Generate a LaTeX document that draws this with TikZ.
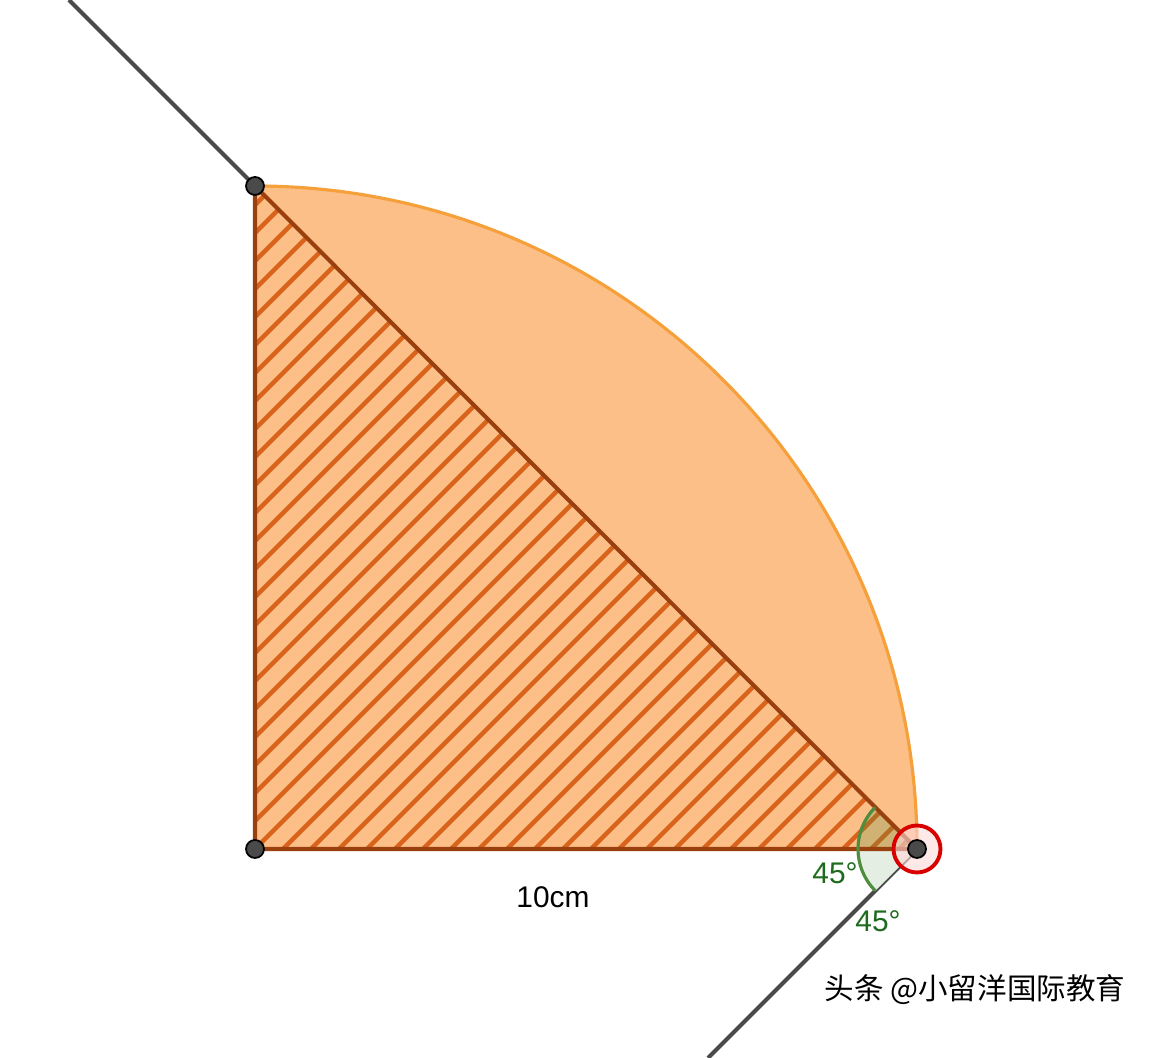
\documentclass[tikz,border=0pt]{standalone}
\usepackage{fontspec}
\setmainfont{Liberation Sans}
\newfontfamily\cjk{Noto Sans CJK SC}
\definecolor{sectorfill}{HTML}{FDBF88}
\definecolor{sectoredge}{HTML}{F5A03A}
\definecolor{hatchcol}{HTML}{D9631B}
\definecolor{triedge}{HTML}{9A400F}
\definecolor{linegray}{HTML}{4A4A4A}
\definecolor{anglegreen}{HTML}{4E8C3E}
\definecolor{labelgreen}{HTML}{1E6B1E}

\begin{document}
\begin{tikzpicture}[x=0.02cm,y=0.02cm,
  main point/.style={circle,fill=linegray,draw=black,line width=1pt,inner sep=0pt,minimum size=0.36cm},
  gray line/.style={linegray,line width=2.3pt},
  tri edge/.style={triedge,line width=2.3pt,line join=round},
  angle arc/.style={anglegreen,line width=1.8pt},
  angle label/.style={text=labelgreen,font=\fontsize{17}{20}\selectfont}]

  \useasboundingbox[fill=white] (0,0) rectangle (1150,1058);

  \coordinate (O) at (255,209);
  \coordinate (A) at (255,872);
  \coordinate (R) at (917,209);
  \coordinate (t) at (69,1058);
  \coordinate (b) at (708,0);

  % lines through R
  \draw[gray line] (t) -- (A);
  \draw[gray line] (R) -- (b);

  % quarter circle
  \fill[sectorfill] (O) -- (A) arc (90:0:662) -- cycle;

  % hatched triangle
  \begin{scope}
    \clip (O) -- (A) -- (R) -- cycle;
    \foreach \s in {-700,-672,...,700}
      \draw[hatchcol,line width=2.6pt] (255+\s-700,209-700) -- ++(1400,1400);
  \end{scope}

  % angles at R
  \fill[anglegreen,opacity=0.25] (R) -- ++(180:59) arc (180:135:59) -- cycle;
  \fill[anglegreen!15] (R) -- ++(180:59) arc (180:225:59) -- cycle;

  \draw[tri edge] (O) -- (A) -- (R) -- cycle;
  \draw[sectoredge,line width=1.8pt] (A) arc (90:0:662);

  \draw[angle arc] (R) ++(135:59) arc (135:225:59);

  % points
  \node[circle,draw=red!85!black,fill=red!15,fill opacity=0.6,line width=2.2pt,minimum size=0.94cm,inner sep=0pt] (Rh) at (R) {};
  \node[main point] (o) at (O) {};
  \node[main point] (a) at (A) {};
  \node[main point] (r) at (R) {};

  % labels
  \node[angle label] (l1) at (835,185) {45°};
  \node[angle label] (l2) at (878,137) {45°};
  \node[font=\fontsize{17}{20}\selectfont] (len) at (553,161) {10cm};
  \node[font=\fontsize{16.8}{20}\selectfont\cjk] (wm) at (975,68) {头条 @小留洋国际教育};

\end{tikzpicture}
\end{document}
